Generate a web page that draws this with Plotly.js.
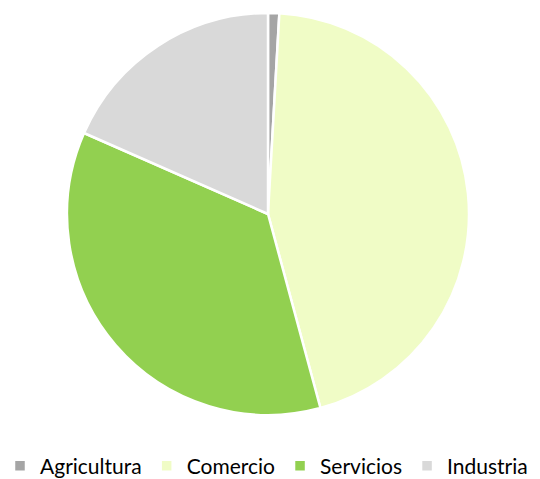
<!DOCTYPE html>
<html><head><meta charset="utf-8">
<script src="https://cdn.plot.ly/plotly-3.0.1.min.js"></script>
<style>body{margin:0;background:#fff}</style>
</head><body><div id="chart" style="width:540px;height:479px"></div>
<script>
const labels = ["Agricultura", "Comercio", "Servicios", "Industria"];
const values = [0.9, 44.9, 35.8, 18.4];
const colors = ["#a5a5a5", "#f0fcc6", "#92d050", "#d9d9d9"];

Plotly.newPlot("chart", [{
  type: "pie",
  labels: labels,
  values: values,
  sort: false,
  direction: "clockwise",
  rotation: 0,
  textinfo: "none",
  hoverinfo: "label+percent",
  marker: {colors: colors, line: {color: "#ffffff", width: 2.5}},
  domain: {x: [67/540, 469/540], y: [1 - 415/479, 1 - 13/479]}
}], {
  width: 540, height: 479,
  margin: {l: 0, r: 0, t: 0, b: 0, autoexpand: false},
  paper_bgcolor: "#ffffff",
  showlegend: true,
  legend: {orientation: "h", x: 0, xanchor: "left", y: 13/479, yanchor: "middle",
           font: {family: "Lato, 'Open Sans', sans-serif", size: 21, color: "#000000"},
           itemwidth: 30, traceorder: "normal"}
}, {displayModeBar: false, staticPlot: true});
</script></body></html>
